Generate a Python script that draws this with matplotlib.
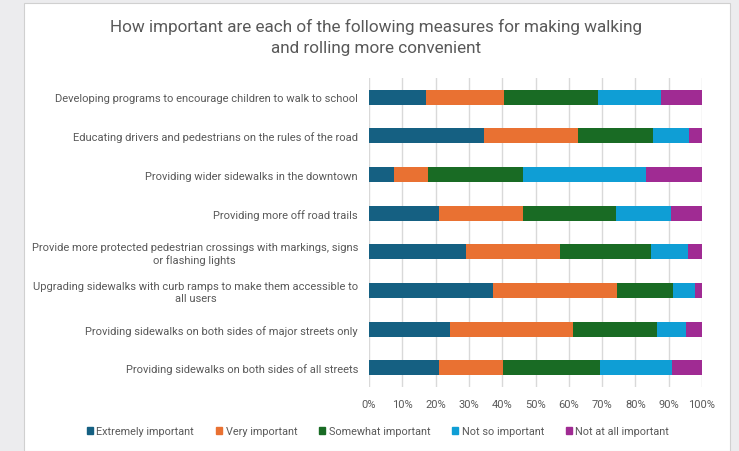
import matplotlib.pyplot as plt
import matplotlib.patches as mpatches
import numpy as np

plt.rcParams['font.family'] = ['Roboto', 'DejaVu Sans']

measures = [
    'Developing programs to encourage children to walk to school',
    'Educating drivers and pedestrians on the rules of the road',
    'Providing wider sidewalks in the downtown',
    'Providing more off road trails',
    'Provide more protected pedestrian crossings with markings, signs\nor flashing lights',
    'Upgrading sidewalks with curb ramps to make them accessible to\nall users',
    'Providing sidewalks on both sides of major streets only',
    'Providing sidewalks on both sides of all streets',
]
levels = ['Extremely important', 'Very important', 'Somewhat important',
          'Not so important', 'Not at all important']

# percentages, one list per level
extremely = [17.2, 34.5, 7.6, 20.9, 29.0, 37.1, 24.4, 20.9]
very = [23.4, 28.2, 10.2, 25.3, 28.4, 37.5, 37.0, 19.2]
somewhat = [28.2, 22.6, 28.4, 28.1, 27.3, 16.8, 25.0, 29.3]
not_so = [18.9, 10.8, 37.0, 16.5, 11.1, 6.4, 8.8, 21.7]
not_at_all = [12.3, 3.9, 16.8, 9.2, 4.2, 2.2, 4.8, 8.9]

colors = ['#156082', '#E97132', '#196B24', '#0F9ED5', '#A02B93']
text_gray = '#595959'

fig = plt.figure(figsize=(7.39, 4.52), dpi=100, facecolor='#ececee')
# white chart panel like the Excel chart area
fig.patches.append(mpatches.Rectangle((24 / 739, 0), (730 - 24) / 739, 1 - 4 / 452,
                                      transform=fig.transFigure, facecolor='white',
                                      edgecolor='#d0d0d0', linewidth=0.8, zorder=-5))

ax = fig.add_axes([369 / 739, 1 - 388 / 452, (702 - 369) / 739, (388 - 79) / 452])
ax.set_facecolor('none')

y = np.arange(len(measures))
left = np.zeros(len(measures))
series = [extremely, very, somewhat, not_so, not_at_all]
for name, vals, c in zip(levels, series, colors):
    vals = np.array(vals) / 100
    ax.barh(y, vals, left=left, height=0.39, color=c, label=name, zorder=3)
    left += vals

ax.set_xlim(0, 1)
ax.set_ylim(len(measures) - 0.5, -0.5)
ticks = np.arange(0, 1.01, 0.1)
ax.set_xticks(ticks)
ax.set_xticklabels([f'{int(round(t * 100))}%' for t in ticks])
ax.set_yticks(y)
ax.set_yticklabels(measures, ha='right', multialignment='center')
ax.tick_params(axis='y', length=0, pad=8, labelsize=8, labelcolor=text_gray)
ax.tick_params(axis='x', length=0, pad=9, labelsize=8, labelcolor=text_gray)
ax.grid(axis='x', color='#d9d9d9', linewidth=1, zorder=0)
for s in ax.spines.values():
    s.set_visible(False)

fig.text(376 / 739, 1 - 37 / 452,
         'How important are each of the following measures for making walking\nand rolling more convenient',
         ha='center', va='center', fontsize=12.3, color=text_gray, linespacing=1.5)

handles = [mpatches.Patch(color=c, label=n) for n, c in zip(levels, colors)]
fig.legend(handles=handles, loc='center', bbox_to_anchor=(378 / 739, 1 - 432 / 452),
           ncol=5, frameon=False, fontsize=7.8, labelcolor=text_gray,
           handlelength=0.6, handleheight=0.6, handletextpad=0.3, columnspacing=2.0)

fig.savefig('out.png', dpi=100, facecolor=fig.get_facecolor())
